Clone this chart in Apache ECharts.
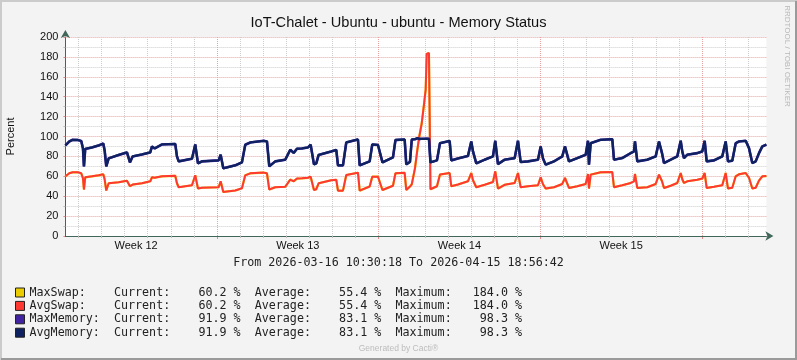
<!DOCTYPE html>
<html><head><meta charset="utf-8">
<script src="https://cdn.jsdelivr.net/npm/echarts@6/dist/echarts.min.js"></script>
<style>html,body{margin:0;padding:0;background:#f3f3f3}#c{width:797px;height:360px}</style>
</head><body><div id="c"></div>
<script>
// x unit: days after Monday 2026-03-16 00:00
const START_DAY = 0.4377;   // 2026-03-16 10:30:18
const END_DAY = 30.7894;    // 2026-04-15 18:56:42
const timeDays = [
0.438,0.605,0.752,0.981,1.124,1.198,1.241,1.297,1.588,1.878,2.077,2.137,2.207,2.311,2.744,3.103,3.159,3.233,3.350,3.753,
4.112,4.186,4.302,4.619,5.194,5.268,5.342,5.918,6.060,6.177,6.351,7.074,7.160,7.273,7.792,8.082,8.225,8.442,9.022,9.165,
9.265,9.524,9.957,10.174,10.321,10.464,10.680,10.940,11.057,11.200,11.300,11.403,11.949,12.166,12.239,12.456,12.599,13.105,13.179,13.612,
13.724,13.971,14.166,14.621,14.729,15.127,15.197,15.357,15.435,15.573,15.673,15.760,15.864,15.963,16.037,16.080,16.179,16.244,16.288,16.526,
16.656,17.076,17.145,17.436,17.868,18.011,18.085,18.228,18.591,18.951,19.050,19.167,19.457,19.890,20.033,20.150,20.466,20.899,20.943,21.016,
21.116,21.233,21.592,21.951,22.068,22.241,22.601,22.965,23.064,23.107,23.181,23.614,24.116,24.190,24.549,24.913,25.056,25.099,25.199,25.632,
25.996,26.139,26.269,26.355,26.645,26.931,27.078,27.147,27.220,27.364,27.797,28.013,28.117,28.204,28.520,28.879,29.026,29.126,29.312,29.460,
29.603,29.893,30.036,30.179,30.326,30.469,30.612,30.789];
const avgMemory = [
91,95,96.7,96.5,95.5,88,70,87.5,89,91,93,86,70,78,81.5,84,86,74,80,82,
84,90,88,92,92.5,80,75,77.7,92,73,75,76,81.7,68,71,74,91.7,94,95.7,95,
70,75,76.7,86.7,83.5,87.7,88,89,91.7,72,73,81.5,85,86.5,71,71,94,97,71,75,
92,91.5,74,79,96.5,97,72,74.5,97,97.3,98.3,97.5,97.7,97.7,97.7,97.8,97.7,74,75,76,
93.3,95.5,76,78,80.5,95,85,73,76.7,80,95.7,72.3,76.7,78.3,95.7,74.3,75,76.7,78.3,90,
78,71.7,75,80,90,75,78.3,81.7,95.7,71.7,93.3,96.7,97.3,76.7,78.3,83.3,85,95,75,76.7,
80,95,83.3,73.3,76.7,80,95.7,85,78.3,81.7,83.3,85,95.7,75,76,80,95,75,75.7,93.3,
95,95.7,88.3,73.3,75,83.3,90,91.9];
const avgSwap = [
60,63,64,64,63,58,46.7,59,60,61,62,57,45.7,53,54,55.5,57,50,51.7,53,
55,59,58.5,60,60.5,53,49,51,61,47.7,48.5,49,55,44.3,45.7,48,61,63,63.7,63,
46.7,49,49.5,56.7,55,57.7,58,58.5,59.6,46.2,47,53,56,56.5,45.6,45.6,61.3,63.6,45.6,49.7,
59.6,59.6,46.2,50.5,63,63.5,46.2,49.7,52,68,86,100,113,132,147,183,184,47,48.3,50,
61.7,63.3,50,51.7,55,63.3,56,49,51.5,54.3,65,47.7,51.5,53.3,63.3,49,50,51,51,59,
52,47.7,49,52.3,58.3,48.3,50,52.3,62.3,47.7,61.7,64,64.3,49,51,53.3,55,62.3,48.3,49,
52.3,61.7,55,48.3,50.5,53.3,63.3,57,53.3,55,56.5,57.7,63.3,48.3,49.5,51,63.3,47.7,48.5,60,
62,63.3,58.5,47.7,48.5,55.7,60,60.2];
// Max series coincide with the averages in this graph (identical legend statistics)
const maxSwap = avgSwap;
const maxMemory = avgMemory;

const dayTicks = [1,2,3,4,5,6,8,9,10,11,12,13,15,16,17,18,19,20,22,23,24,25,26,27,29,30];
const weekStartTicks = [7,14,21,28];
const weekLabelDays = [3.5,10.5,17.5,24.5];
const weekLabels = ['Week 12','Week 13','Week 14','Week 15'];

const seriesNames = ['MaxSwap','AvgSwap','MaxMemory','AvgMemory'];
const currentVals = [60.2,60.2,91.9,91.9];
const averageVals = [55.4,55.4,83.1,83.1];
const maximumVals = [184.0,184.0,98.3,98.3];

const titleText = 'IoT-Chalet - Ubuntu - ubuntu - Memory Status';
const rangeText = 'From 2026-03-16 10:30:18 To 2026-04-15 18:56:42';

// ---- styles ----
const SANS = '"Liberation Sans", Arial, sans-serif';
const MONO = '"DejaVu Sans Mono", monospace';
const colors = ['#EACC00','#FF3932','#4123A1','#0E2160'];
const widths = [2.2,2,2.6,2.3];
const AXIS = '#41675b';
const MINOR = '#cdcdcd';
const MAJOR = '#e6a3a3';

const chart = echarts.init(document.getElementById('c'), null, {renderer:'canvas'});
const series = [maxSwap, avgSwap, maxMemory, avgMemory].map((vals, k) => ({
  name: seriesNames[k], type:'line', xAxisIndex:0, yAxisIndex:0,
  data: timeDays.map((d,i)=>[d, vals[i]]),
  showSymbol:false, symbol:'none', sampling:null, animation:false, silent:true,
  lineStyle:{width:widths[k], color:colors[k]}, itemStyle:{color:colors[k]}, z:2+k
}));

function legendRow(name){
  const i = seriesNames.indexOf(name);
  return (name+':').padEnd(12) + 'Current:' + currentVals[i].toFixed(1).padStart(8) + ' %  '
       + 'Average:' + averageVals[i].toFixed(1).padStart(8) + ' %  '
       + 'Maximum:' + maximumVals[i].toFixed(1).padStart(8) + ' %';
}

chart.setOption({
  backgroundColor:'#f3f3f3',
  animation:false,
  title:[
    {text:titleText, left:'center', top:14.5, padding:0,
     textStyle:{fontFamily:SANS, fontSize:14.6, fontWeight:'normal', color:'#111', lineHeight:16}},
    {text:rangeText, left:'center', top:256, padding:0,
     textStyle:{fontFamily:MONO, fontSize:11.7, fontWeight:'normal', color:'#222', lineHeight:14}}
  ],
  legend:{
    orient:'vertical', left:15, top:286, padding:0, itemGap:0.4,
    itemWidth:9, itemHeight:9, icon:'rect', selectedMode:false,
    itemStyle:{borderColor:'#222', borderWidth:1},
    textStyle:{fontFamily:MONO, fontSize:11.7, color:'#222', lineHeight:13},
    formatter: legendRow,
    data: seriesNames
  },
  grid:{left:65.4, right:30.6, top:37, bottom:124, show:true, backgroundColor:'#ffffff', borderWidth:0, outerBoundsMode:'none', containLabel:false},
  xAxis:[
    {type:'value', min:START_DAY, max:END_DAY, position:'bottom', z:3,
     axisLine:{show:true, onZero:false, lineStyle:{color:AXIS, width:1}, symbol:['none','arrow'], symbolSize:[7,8], symbolOffset:[0,7]},
     axisTick:{show:true, length:2, customValues:dayTicks, lineStyle:{color:'#bdbdbd'}},
     axisLabel:{show:false},
     splitLine:{show:true, lineStyle:{color:MINOR, type:[1,1], width:1}}},
    {type:'value', min:START_DAY, max:END_DAY, position:'bottom', z:2,
     axisLine:{show:false},
     axisTick:{show:true, length:3, customValues:weekStartTicks, lineStyle:{color:'#e08a8a'}},
     axisLabel:{show:true, customValues:weekLabelDays, margin:4, fontFamily:SANS, fontSize:11, color:'#111',
       formatter:(v)=>{const i = weekLabelDays.findIndex(w=>Math.abs(w-v)<1e-6); return i>=0?weekLabels[i]:'';}},
     splitLine:{show:true, lineStyle:{color:MAJOR, type:[1,1], width:1}}}
  ],
  yAxis:{type:'value', min:0, max:200, interval:20,
    name:'Percent', nameLocation:'middle', nameRotate:90, nameGap:49,
    nameTextStyle:{fontFamily:SANS, fontSize:11, color:'#111'},
    axisLine:{show:true, lineStyle:{color:AXIS, width:1}, symbol:['none','arrow'], symbolSize:[7,8], symbolOffset:[0,7]},
    axisTick:{show:true, length:2, lineStyle:{color:'#e08a8a'}},
    minorTick:{show:true, splitNumber:2, length:2, lineStyle:{color:'#bdbdbd'}},
    axisLabel:{fontFamily:SANS, fontSize:11, color:'#111', margin:7},
    splitLine:{show:true, lineStyle:{color:MAJOR, type:[1,1], width:1}},
    minorSplitLine:{show:true, lineStyle:{color:MINOR, type:[1,1], width:1}}
  },
  graphic:[
    {type:'text', x:787.5, y:56, rotation:-Math.PI/2, silent:true,
     style:{text:'RRDTOOL / TOBI OETIKER', font:'8px "Liberation Sans", Arial, sans-serif', fill:'#b9b9b9',
            align:'center', verticalAlign:'middle', textAlign:'center', textVerticalAlign:'middle'}},
    {type:'text', x:398.5, y:349, silent:true,
     style:{text:'Generated by Cacti\u00AE', font:'8.5px "Liberation Sans", Arial, sans-serif', fill:'#bcbcbc',
            align:'center', verticalAlign:'middle', textAlign:'center', textVerticalAlign:'middle'}},
    {type:'polyline', silent:true, shape:{points:[[1,360],[1,1],[797,1]]}, style:{stroke:'#cbcbcb', lineWidth:2, fill:null}},
    {type:'polyline', silent:true, shape:{points:[[1,359],[796,359],[796,1]]}, style:{stroke:'#9a9a9a', lineWidth:2, fill:null}}
  ],
  series: series
});
</script></body></html>
